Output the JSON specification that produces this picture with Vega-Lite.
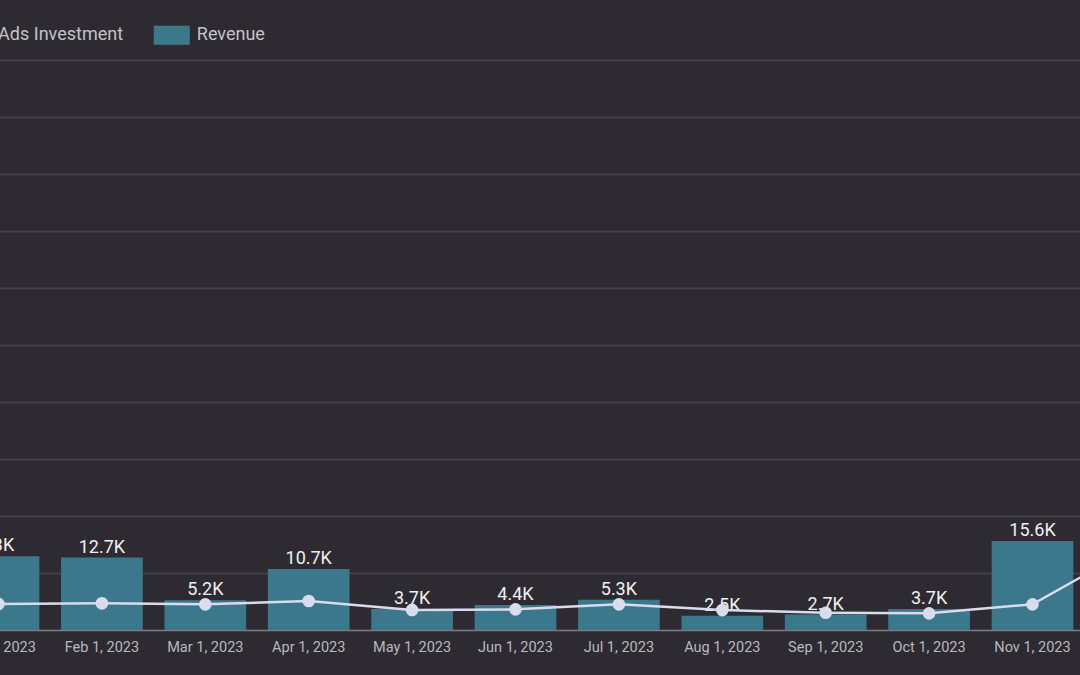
{
  "$schema": "https://vega.github.io/schema/vega-lite/v6.json",
  "autosize": {"type": "none"},
  "padding": {"left": -53.2, "top": 60, "right": -107.6, "bottom": 45},
  "width": 1240.8,
  "height": 570,
  "background": "#2d2b31",
  "config": {
    "font": "Roboto",
    "view": {"stroke": null}
  },
  "data": {
    "values": [
      {"month": "Jan 1, 2023", "revenue": 12960, "investment": 4560},
      {"month": "Feb 1, 2023", "revenue": 12700, "investment": 4680},
      {"month": "Mar 1, 2023", "revenue": 5200, "investment": 4500},
      {"month": "Apr 1, 2023", "revenue": 10700, "investment": 5080},
      {"month": "May 1, 2023", "revenue": 3700, "investment": 3520},
      {"month": "Jun 1, 2023", "revenue": 4400, "investment": 3620},
      {"month": "Jul 1, 2023", "revenue": 5300, "investment": 4500},
      {"month": "Aug 1, 2023", "revenue": 2500, "investment": 3500},
      {"month": "Sep 1, 2023", "revenue": 2700, "investment": 3030},
      {"month": "Oct 1, 2023", "revenue": 3700, "investment": 2920},
      {"month": "Nov 1, 2023", "revenue": 15600, "investment": 4500},
      {"month": "Dec 1, 2023", "revenue": 91000, "investment": 14700}
    ]
  },
  "transform": [
    {"calculate": "format(datum.revenue / 1000, '.1~f') + 'K'", "as": "revenue_label"}
  ],
  "encoding": {
    "x": {
      "field": "month",
      "type": "ordinal",
      "sort": null,
      "scale": {"paddingInner": 0.21, "paddingOuter": 0.105},
      "axis": {
        "title": null,
        "labelAngle": 0,
        "labelFontSize": 14.5,
        "labelColor": "#b9b8be",
        "labelPadding": 10,
        "ticks": false,
        "tickSize": 0,
        "domainColor": "#7d7c82",
        "domainWidth": 1.5,
        "grid": false
      }
    }
  },
  "layer": [
    {
      "mark": {"type": "bar", "color": "#3c788c"},
      "encoding": {
        "y": {
          "field": "revenue",
          "type": "quantitative",
          "scale": {"domain": [0, 100000], "nice": false},
          "axis": {
            "title": null,
            "labels": false,
            "ticks": false,
            "domain": false,
            "values": [10000, 20000, 30000, 40000, 50000, 60000, 70000, 80000, 90000, 100000],
            "gridColor": "#423f47",
            "gridWidth": 2
          }
        },
        "color": {
          "datum": "Revenue",
          "scale": {
            "domain": ["Google Ads Investment", "Revenue"],
            "range": ["#d9dcec", "#3c788c"]
          },
          "legend": {
            "title": null,
            "orient": "none",
            "direction": "horizontal",
            "legendX": -53,
            "legendY": -43,
            "padding": 0,
            "labelFont": "Roboto",
            "labelFontSize": 18,
            "labelLimit": 400,
            "labelColor": "#c3c2c7",
            "labelOffset": 7,
            "columnPadding": 30,
            "symbolType": "M-1,-0.53H1V0.53H-1Z",
            "symbolSize": 1296,
            "symbolStrokeWidth": 0,
            "symbolOpacity": 1
          }
        }
      }
    },
    {
      "mark": {
        "type": "text",
        "baseline": "alphabetic",
        "dy": -5,
        "fontSize": 18,
        "color": "#f0f0f2"
      },
      "encoding": {
        "y": {"field": "revenue", "type": "quantitative"},
        "text": {"field": "revenue_label"}
      }
    },
    {
      "mark": {
        "type": "line",
        "strokeWidth": 2.5,
        "point": {"filled": true, "size": 160, "opacity": 1}
      },
      "encoding": {
        "y": {"field": "investment", "type": "quantitative"},
        "color": {"datum": "Google Ads Investment"}
      }
    }
  ]
}
